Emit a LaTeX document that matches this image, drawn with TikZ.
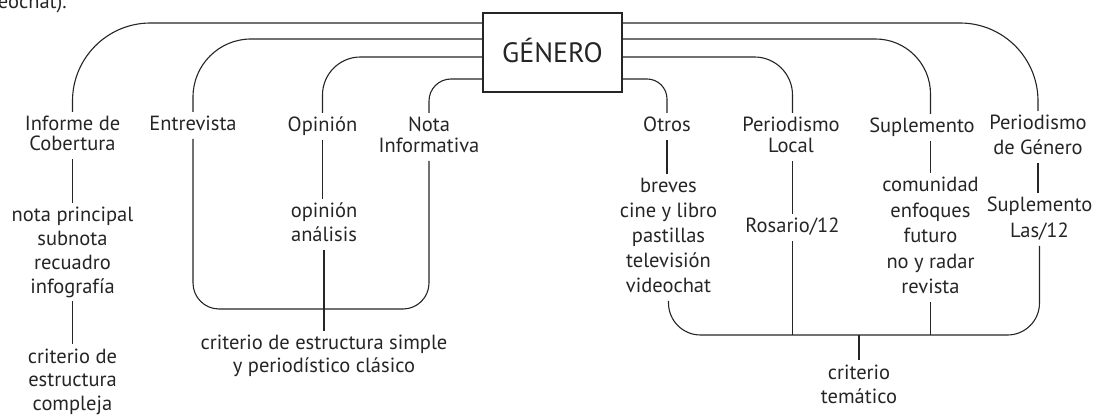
\documentclass[tikz,border=0pt]{standalone}
\usepackage{fontspec}
\setmainfont{PT Sans}
\definecolor{ink}{RGB}{38,36,37}
% struts: fixed top of the first line, fixed depth of the last line
\newcommand\hi{\rule{0pt}{16pt}}
\newcommand\lo{\rule[-5pt]{0pt}{5pt}}
\tikzset{
  lbl/.style={align=center, inner sep=0pt, outer sep=3pt, text=ink,
    font=\fontsize{20.5}{24}\selectfont, anchor=north},
  lsk/.style={font=\fontsize{20.5}{#1}\selectfont},
  link/.style={draw=ink, line width=1.1pt},
}
\begin{document}
\begin{tikzpicture}[x=1pt,y=-1pt]
\useasboundingbox (0,0) rectangle (1100,419);

% tail of the preceding paragraph
\node[anchor=base east, inner sep=0pt, text=ink, font=\fontsize{20.5}{24}\selectfont] (frag) at (67,9) {videochat).};

% central box
\node[draw=ink, line width=1.1pt, minimum width=139pt, minimum height=79pt, inner sep=0pt,
      text=ink, font=\fontsize{28}{30}\selectfont, text height=19.6pt, text depth=0pt] (g) at (552.5,52.5) {GÉNERO};

% first row of categories
\node[lbl, lsk=20] (ic) at (72.5,112) {\hi Informe de\\Cobertura\lo};
\node[lbl] (en) at (193,112) {\hi Entrevista\lo};
\node[lbl] (op) at (322.5,113) {\hi Opinión\lo};
\node[lbl, lsk=21] (ni) at (429,113) {\hi Nota\\Informativa\lo};
\node[lbl] (ot) at (667,113) {\hi Otros\lo};
\node[lbl, lsk=21] (pl) at (791,113) {\hi Periodismo\\Local\lo};
\node[lbl] (su) at (922,114) {\hi Suplemento\lo};
\node[lbl, lsk=25] (pg) at (1038,111) {\hi Periodismo\\de Género\lo};

% sections
\node[lbl, lsk=23.7] (ic2) at (72.5,203) {\hi nota principal\\subnota\\recuadro\\infografía\lo};
\node[lbl, lsk=24] (oa) at (324,199) {\hi opinión\\análisis\lo};
\node[lbl, lsk=25] (ob) at (668.5,174) {\hi breves\\cine y libro\\pastillas\\televisión\\videochat\lo};
\node[lbl] (ro) at (792.5,214) {\hi Rosario/12\lo};
\node[lbl, lsk=25.5] (sc) at (930.5,173) {\hi comunidad\\enfoques\\futuro\\no y radar\\revista\lo};
\node[lbl, lsk=26] (sl) at (1039.5,193) {\hi Suplemento\\Las/12\lo};

% criteria
\node[lbl, lsk=23.5] (cc) at (72.5,344) {\hi criterio de\\estructura\\compleja\lo};
\node[lbl, lsk=23] (cs) at (324,331) {\hi criterio de estructura simple\\y periodístico clásico\lo};
\node[lbl, lsk=24] (ct) at (859,360) {\hi criterio\\temático\lo};

% branches leaving the central box
\draw[link, rounded corners=78pt] (g.west |- 0,23) -| (ic.north);
\draw[link, rounded corners=58pt] (g.west |- 0,39) -| (en.north);
\draw[link, rounded corners=38pt] (g.west |- 0,57) -| (op.north);
\draw[link, rounded corners=22pt] (g.west |- 0,79) -| (ni.north);
\draw[link, rounded corners=20pt] (g.east |- 0,79) -| (ot.north);
\draw[link, rounded corners=38pt] (g.east |- 0,57) -| (ro.north |- pl.north);
\draw[link, rounded corners=55pt] (g.east |- 0,39) -| (sc.north |- su.north);
\draw[link, rounded corners=78pt] (g.east |- 0,23) -| (pg.north);

% category to section
\draw[link] (ic.south) -- (ic2.north);
\draw[link] (ic2.south) -- (cc.north);
\draw[link] (op.south) -- (op.south |- oa.north);
\draw[link] (ot.south) -- (ot.south |- ob.north);
\draw[link] (ro.north |- pl.south) -- (ro.north);
\draw[link] (su.south -| sc.north) -- (sc.north);
\draw[link] (pg.south) -- (pg.south |- sl.north);

% left bracket: simple structure
\coordinate (lb) at (324,309);
\draw[link, rounded corners=26pt] (en.south) |- (lb) -| (ni.south);
\draw[link] (oa.south) -- (cs.north);

% right bracket: thematic criterion
\coordinate (tb) at (859,335);
\draw[link, rounded corners=32pt] (ob.south) |- (tb) -| (sl.south);
\draw[link] (ro.south) -- (ro.south |- tb);
\draw[link] (sc.south) -- (sc.south |- tb);
\draw[link] (tb) -- (ct.north);
\end{tikzpicture}
\end{document}
